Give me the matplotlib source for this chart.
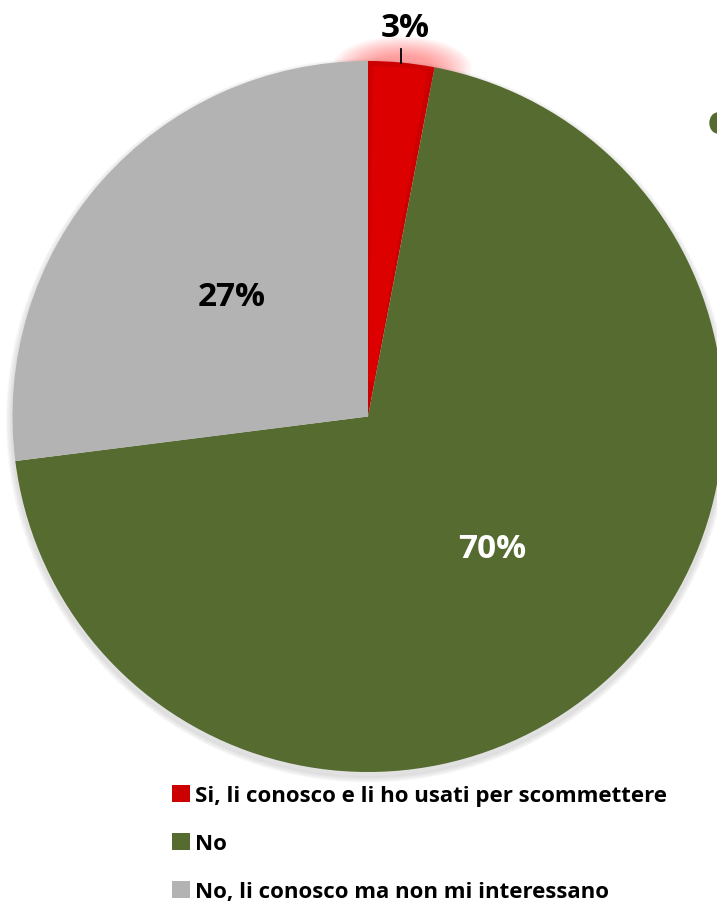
import numpy as np
import matplotlib.pyplot as plt
from matplotlib.patches import Wedge, Circle, Ellipse

plt.rcParams['font.family'] = ['Open Sans', 'DejaVu Sans']

# dati
categorie = ["Si, li conosco e li ho usati per scommettere",
             "No",
             "No, li conosco ma non mi interessano"]
valori = [3, 70, 27]
etichette = ["3%", "70%", "27%"]
colori = ["#CC0000", "#566B2F", "#B3B3B3"]
colori_testo = ["black", "white", "black"]

W, H = 717, 903
fig = plt.figure(figsize=(W / 100, H / 100), dpi=100)
ax = fig.add_axes([0, 0, 1, 1])

cx, cy, r = 368, H - 417.5, 355.5

# ombra morbida sotto la torta
for i in range(10):
    ax.add_patch(Circle((cx, cy - 4), r + 6 - i * 0.6, color="black",
                        alpha=0.012, zorder=0))

# alone rosso dietro la fetta del 3%
a0 = 90 - valori[0] / 100 * 360
mid = np.deg2rad(90 - valori[0] / 100 * 180)
for i in range(16):
    ax.add_patch(Ellipse((cx + r * np.cos(mid), cy + r * np.sin(mid) - 6),
                         140 - i * 5, 64 - i * 2.5, color="#FF3030",
                         alpha=0.035, lw=0, zorder=1))

wedges, _ = ax.pie(valori, colors=colori, startangle=90, counterclock=False,
                   center=(cx, cy), radius=r, frame=True,
                   wedgeprops=dict(linewidth=0, zorder=2))
ax.set_xlim(0, W)
ax.set_ylim(0, H)
ax.set_aspect("equal")
ax.axis("off")

# effetto rilievo sulla fetta rossa
ax.add_patch(Wedge((cx, cy), r - 5, a0 + 1.0, 89.2, width=r - 40,
                   color="#DD0000", lw=0, zorder=3))

# etichette
for w, lab, col in zip(wedges, etichette, colori_testo):
    ang = np.deg2rad((w.theta1 + w.theta2) / 2)
    if lab == "3%":
        ax.plot([cx + r * np.cos(ang)] * 2,
                [cy + r * np.sin(ang), cy + (r + 14) * np.sin(ang)],
                color="black", lw=1.3, zorder=5)
        d = 1.10
    else:
        d = 0.51
    ax.text(cx + d * r * np.cos(ang), cy + d * r * np.sin(ang), lab,
            ha="center", va="center", fontsize=24, fontweight="bold",
            color=col, zorder=6)

# pallino verde sul bordo destro
ax.add_patch(Ellipse((718, H - 124), 16, 20, color="#566B2F", zorder=2))

leg = ax.legend(wedges, categorie, loc="upper left",
                bbox_to_anchor=(172 / W, 1 - 786 / H), frameon=False,
                prop=dict(size=16, weight="bold"), handlelength=0.8,
                handleheight=0.8, handletextpad=0.25, labelspacing=1.2,
                borderpad=0, borderaxespad=0)

fig.savefig("out.png", dpi=100)
